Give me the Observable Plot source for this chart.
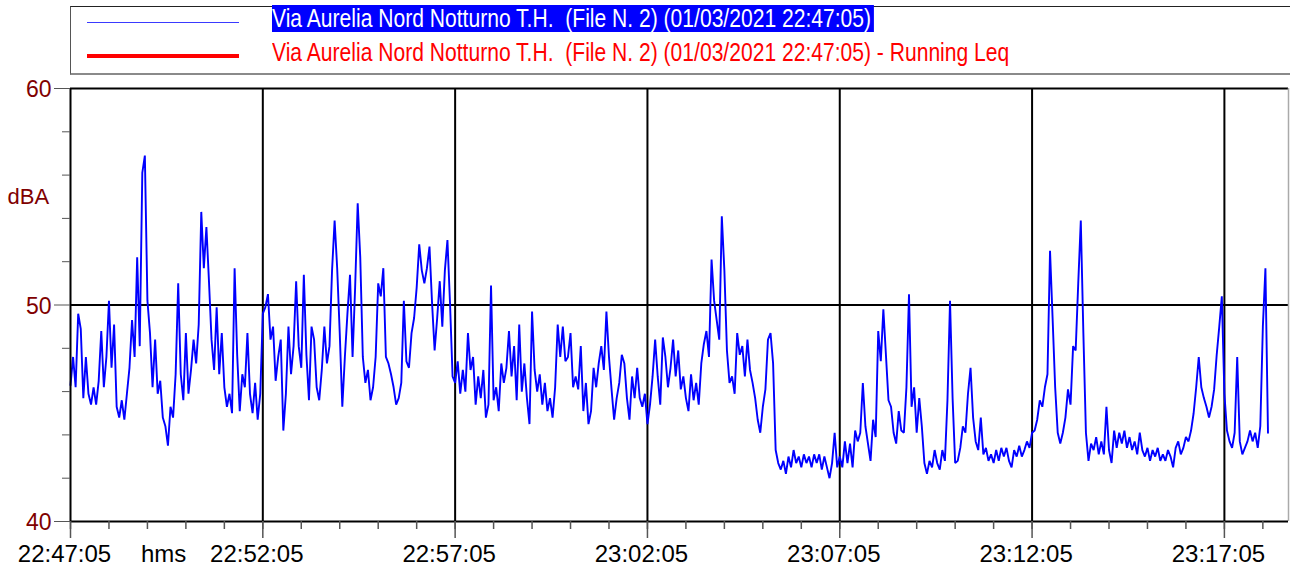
<!DOCTYPE html>
<html>
<head>
<meta charset="utf-8">
<script src="https://cdn.jsdelivr.net/npm/d3@7"></script>
<script src="https://cdn.jsdelivr.net/npm/@observablehq/plot@0.6"></script>
<style>
  html, body { margin: 0; padding: 0; background: #fff; overflow: hidden; }
  body { font-family: "Liberation Sans", Arial, sans-serif; }
  #legend { position: relative; width: 1290px; height: 70px; overflow: visible; }
  #box { position: absolute; left: 70px; top: 6px; width: 1240px; height: 66px;
         border-top: 1px solid #222; border-left: 1px solid #555; border-bottom: 2px solid #8a8a8a; }
  .sw { position: absolute; left: 87px; width: 152px; }
  .lt { position: absolute; left: 272px; font-size: 25px; line-height: 27px; white-space: pre;
        transform-origin: 0 0; transform: scaleX(0.843); }
  #l1 { top: 5px; background: #0000ff; color: #fff; padding-right: 3px; }
  #l2 { top: 39px; color: #ff0000; }
  #chart { display: block; }
</style>
</head>
<body>
<div id="legend">
  <div id="box"></div>
  <div class="sw" style="top:22px;height:1px;background:#3a3aff;"></div>
  <div class="sw" style="top:54px;height:4px;background:#ff0000;"></div>
  <div class="lt" id="l1"></div>
  <div class="lt" id="l2"></div>
</div>
<div id="chart"></div>
<script>
// ---------- data ----------
const seriesName = "Via Aurelia Nord Notturno T.H.  (File N. 2) (01/03/2021 22:47:05)";
const leqName = seriesName + " - Running Leq";
const stepSeconds = 4; // one reading every 4 s from 22:47:05

const levels = [
46.3,47.6,46.2,49.6,48.9,45.7,47.6,45.9,45.4,46.2,45.4,46.5,48.8,46.2,47.6,50.2,47.1,49.1,45.3,44.8,
45.6,44.7,45.9,47.1,49.3,47.6,52.2,48.1,56.1,56.9,50.2,48.7,46.2,48.4,45.9,46.5,44.8,44.4,43.5,45.3,
44.8,46.8,51.0,46.8,45.6,48.7,45.9,47.0,48.4,47.3,49.1,54.3,51.7,53.6,51.1,48.4,47.0,49.9,46.8,48.7,
46.2,45.3,45.9,45.0,51.7,47.7,45.1,46.8,46.2,48.7,45.9,45.0,46.4,44.7,45.9,49.6,49.9,50.5,48.4,49.0,
46.5,47.6,48.4,44.2,45.9,49.0,46.8,48.1,51.1,48.1,47.1,51.4,47.7,45.6,49.0,48.4,46.2,
45.6,47.0,49.0,47.3,48.1,51.6,53.9,51.7,48.7,45.3,47.6,49.6,51.4,47.6,50.8,54.7,52.2,47.6,46.4,47.0,
45.6,46.2,47.6,51.0,50.4,51.7,47.6,47.3,46.8,46.2,45.4,45.7,46.4,50.2,47.4,47.1,48.7,49.4,50.8,52.8,
51.6,51.0,51.7,52.7,50.1,47.9,49.4,51.1,49.0,51.6,53.0,50.1,46.7,46.4,47.4,45.9,47.0,46.0,48.7,47.0,
47.6,45.4,46.7,45.7,47.0,44.8,45.4,50.9,45.6,46.2,45.1,47.3,46.4,47.1,48.8,46.7,48.1,45.6,49.1,46.0,
47.3,45.7,44.5,49.7,47.0,46.0,46.8,45.4,46.4,45.1,45.7,44.8,46.2,49.1,47.6,49.0,47.4,
47.6,48.7,46.2,46.7,46.1,48.1,45.1,46.4,44.5,45.1,47.1,46.2,47.3,48.1,47.0,49.7,47.6,46.1,44.7,45.7,
46.4,47.7,47.3,45.7,44.7,46.7,45.7,47.1,45.7,45.3,45.9,44.5,45.4,46.7,48.4,46.7,45.4,48.5,47.6,46.2,
47.1,48.4,46.7,47.9,46.1,46.7,45.7,45.1,46.8,45.6,46.4,45.4,47.3,48.2,48.8,47.6,52.1,50.2,49.3,48.4,
54.1,51.6,47.9,46.4,46.7,45.9,48.7,47.7,48.1,46.7,48.4,47.0,46.4,45.7,44.7,44.1,45.3,46.1,48.4,48.7,
47.3,43.3,42.7,42.4,42.8,42.2,43.0,42.5,43.3,42.7,43.0,42.5,43.1,42.7,43.0,42.5,43.1,
42.7,43.1,42.4,43.0,42.5,42.0,42.7,44.1,42.5,43.0,42.5,43.7,42.7,43.6,42.5,44.2,43.7,44.1,46.4,44.4,
43.6,42.8,44.7,43.9,48.8,47.4,49.8,47.7,45.6,45.3,44.1,43.6,45.1,44.2,44.1,46.2,50.5,45.3,46.2,44.1,
45.7,44.4,42.7,42.2,42.8,42.5,43.3,42.7,42.4,43.3,42.8,45.6,50.2,45.7,42.7,42.8,43.4,44.4,44.1,45.9,
47.1,44.8,43.7,43.3,44.8,43.1,43.4,42.8,43.1,42.7,43.3,42.8,43.4,43.0,43.4,42.8,42.5,43.3,43.0,43.5,
43.0,43.3,43.7,43.4,44.1,44.2,44.7,45.6,45.3,46.2,46.8,52.5,49.4,46.2,44.1,43.6,
44.1,44.8,46.1,45.4,48.1,47.9,51.0,53.9,48.7,44.1,42.8,43.6,43.3,43.9,43.1,43.7,43.1,45.3,43.3,42.7,
44.2,43.4,44.1,43.6,44.2,43.4,43.9,43.3,43.7,43.1,44.1,43.3,43.0,43.4,42.8,43.3,43.0,43.4,42.8,43.1,
42.8,43.3,43.0,42.5,43.4,43.7,43.1,43.4,43.9,43.7,44.2,45.0,46.2,47.6,46.2,45.7,45.3,44.8,45.3,46.1,
47.7,49.0,50.4,45.9,44.2,43.7,43.4,44.1,47.6,43.7,43.1,43.4,43.7,44.2,43.7,44.1,43.4,44.4,49.0,51.7,
44.1
];

const xTickSeconds = [0, 300, 600, 900, 1200, 1500, 1800];
const xTickLabels = ["22:47:05", "22:52:05", "22:57:05", "23:02:05", "23:07:05", "23:12:05", "23:17:05"];
const xMinorSeconds = d3.range(0, 1900, 60);
const xEndSeconds = 1900;
const yMajor = [40, 50, 60];
const yMinor = [42, 44, 46, 48, 52, 54, 56, 58];
const yUnit = "dBA";
const xUnit = "hms";

document.getElementById("l1").textContent = seriesName;
document.getElementById("l2").textContent = leqName;

const darkRed = "#800000";
const chart = Plot.plot({
  width: 1290,
  height: 497,
  marginTop: 18,
  marginBottom: 46,
  marginLeft: 70,
  marginRight: 2,
  style: { fontFamily: "'Liberation Sans', Arial, sans-serif", fontSize: "24px", background: "white", overflow: "visible" },
  x: { domain: [0, xEndSeconds], axis: null },
  y: { domain: [40, 60], axis: null },
  marks: [
    Plot.ruleX(xTickSeconds.slice(1), { stroke: "#000", strokeWidth: 2 }),
    Plot.ruleY([50], { stroke: "#000", strokeWidth: 2 }),
    Plot.line(levels, { x: (d, i) => i * stepSeconds, y: d => d, stroke: "#0000ff", strokeWidth: 1.9, strokeLinejoin: "miter" }),
    Plot.ruleY([60], { stroke: "#000", strokeWidth: 2 }),
    Plot.ruleX([xEndSeconds], { stroke: "#aaa", strokeWidth: 1.5 }),
    Plot.ruleX([0], { stroke: "#000", strokeWidth: 2 }),
    Plot.ruleY([40], { stroke: "#000", strokeWidth: 2 }),
    // y ticks
    Plot.axisY(yMinor, { tickSize: 8, stroke: "#555", fill: "none", label: null }),
    Plot.axisY(yMajor, { tickSize: 16, stroke: "#555", fill: "none", label: null }),
    Plot.axisY(yMajor, { tickSize: 0, tickPadding: 19, fill: darkRed, fontSize: 23, dy: 1.5, label: null }),
    Plot.text([yUnit], { y: 55, frameAnchor: "left", dx: -63, textAnchor: "start", fill: darkRed, fontSize: 22, text: d => d }),
    // x ticks
    Plot.axisX(xMinorSeconds, { tickSize: 8, stroke: "#555", strokeWidth: 1.5, fill: "none", label: null }),
    Plot.axisX(xTickSeconds, { tickSize: 17, stroke: "#555", strokeWidth: 1.5, fill: "none", label: null }),
    Plot.axisX(xTickSeconds, { tickSize: 0, tickPadding: 23, dx: -6, fill: "#000", label: null,
      tickFormat: d => xTickLabels[xTickSeconds.indexOf(d)], ariaLabel: "xlabels" }),
    Plot.text([xUnit], { x: xTickSeconds[1] / 2, frameAnchor: "bottom", dy: 23, lineAnchor: "top", dx: -3,
      fill: "#000", text: d => d, ariaLabel: "xunit" })
  ]
});
document.getElementById("chart").appendChild(chart);
d3.select(chart).selectAll('[aria-label="xlabels"] text, [aria-label="xunit"] text')
  .style("letter-spacing", "-1.5px");
</script>
</body>
</html>
